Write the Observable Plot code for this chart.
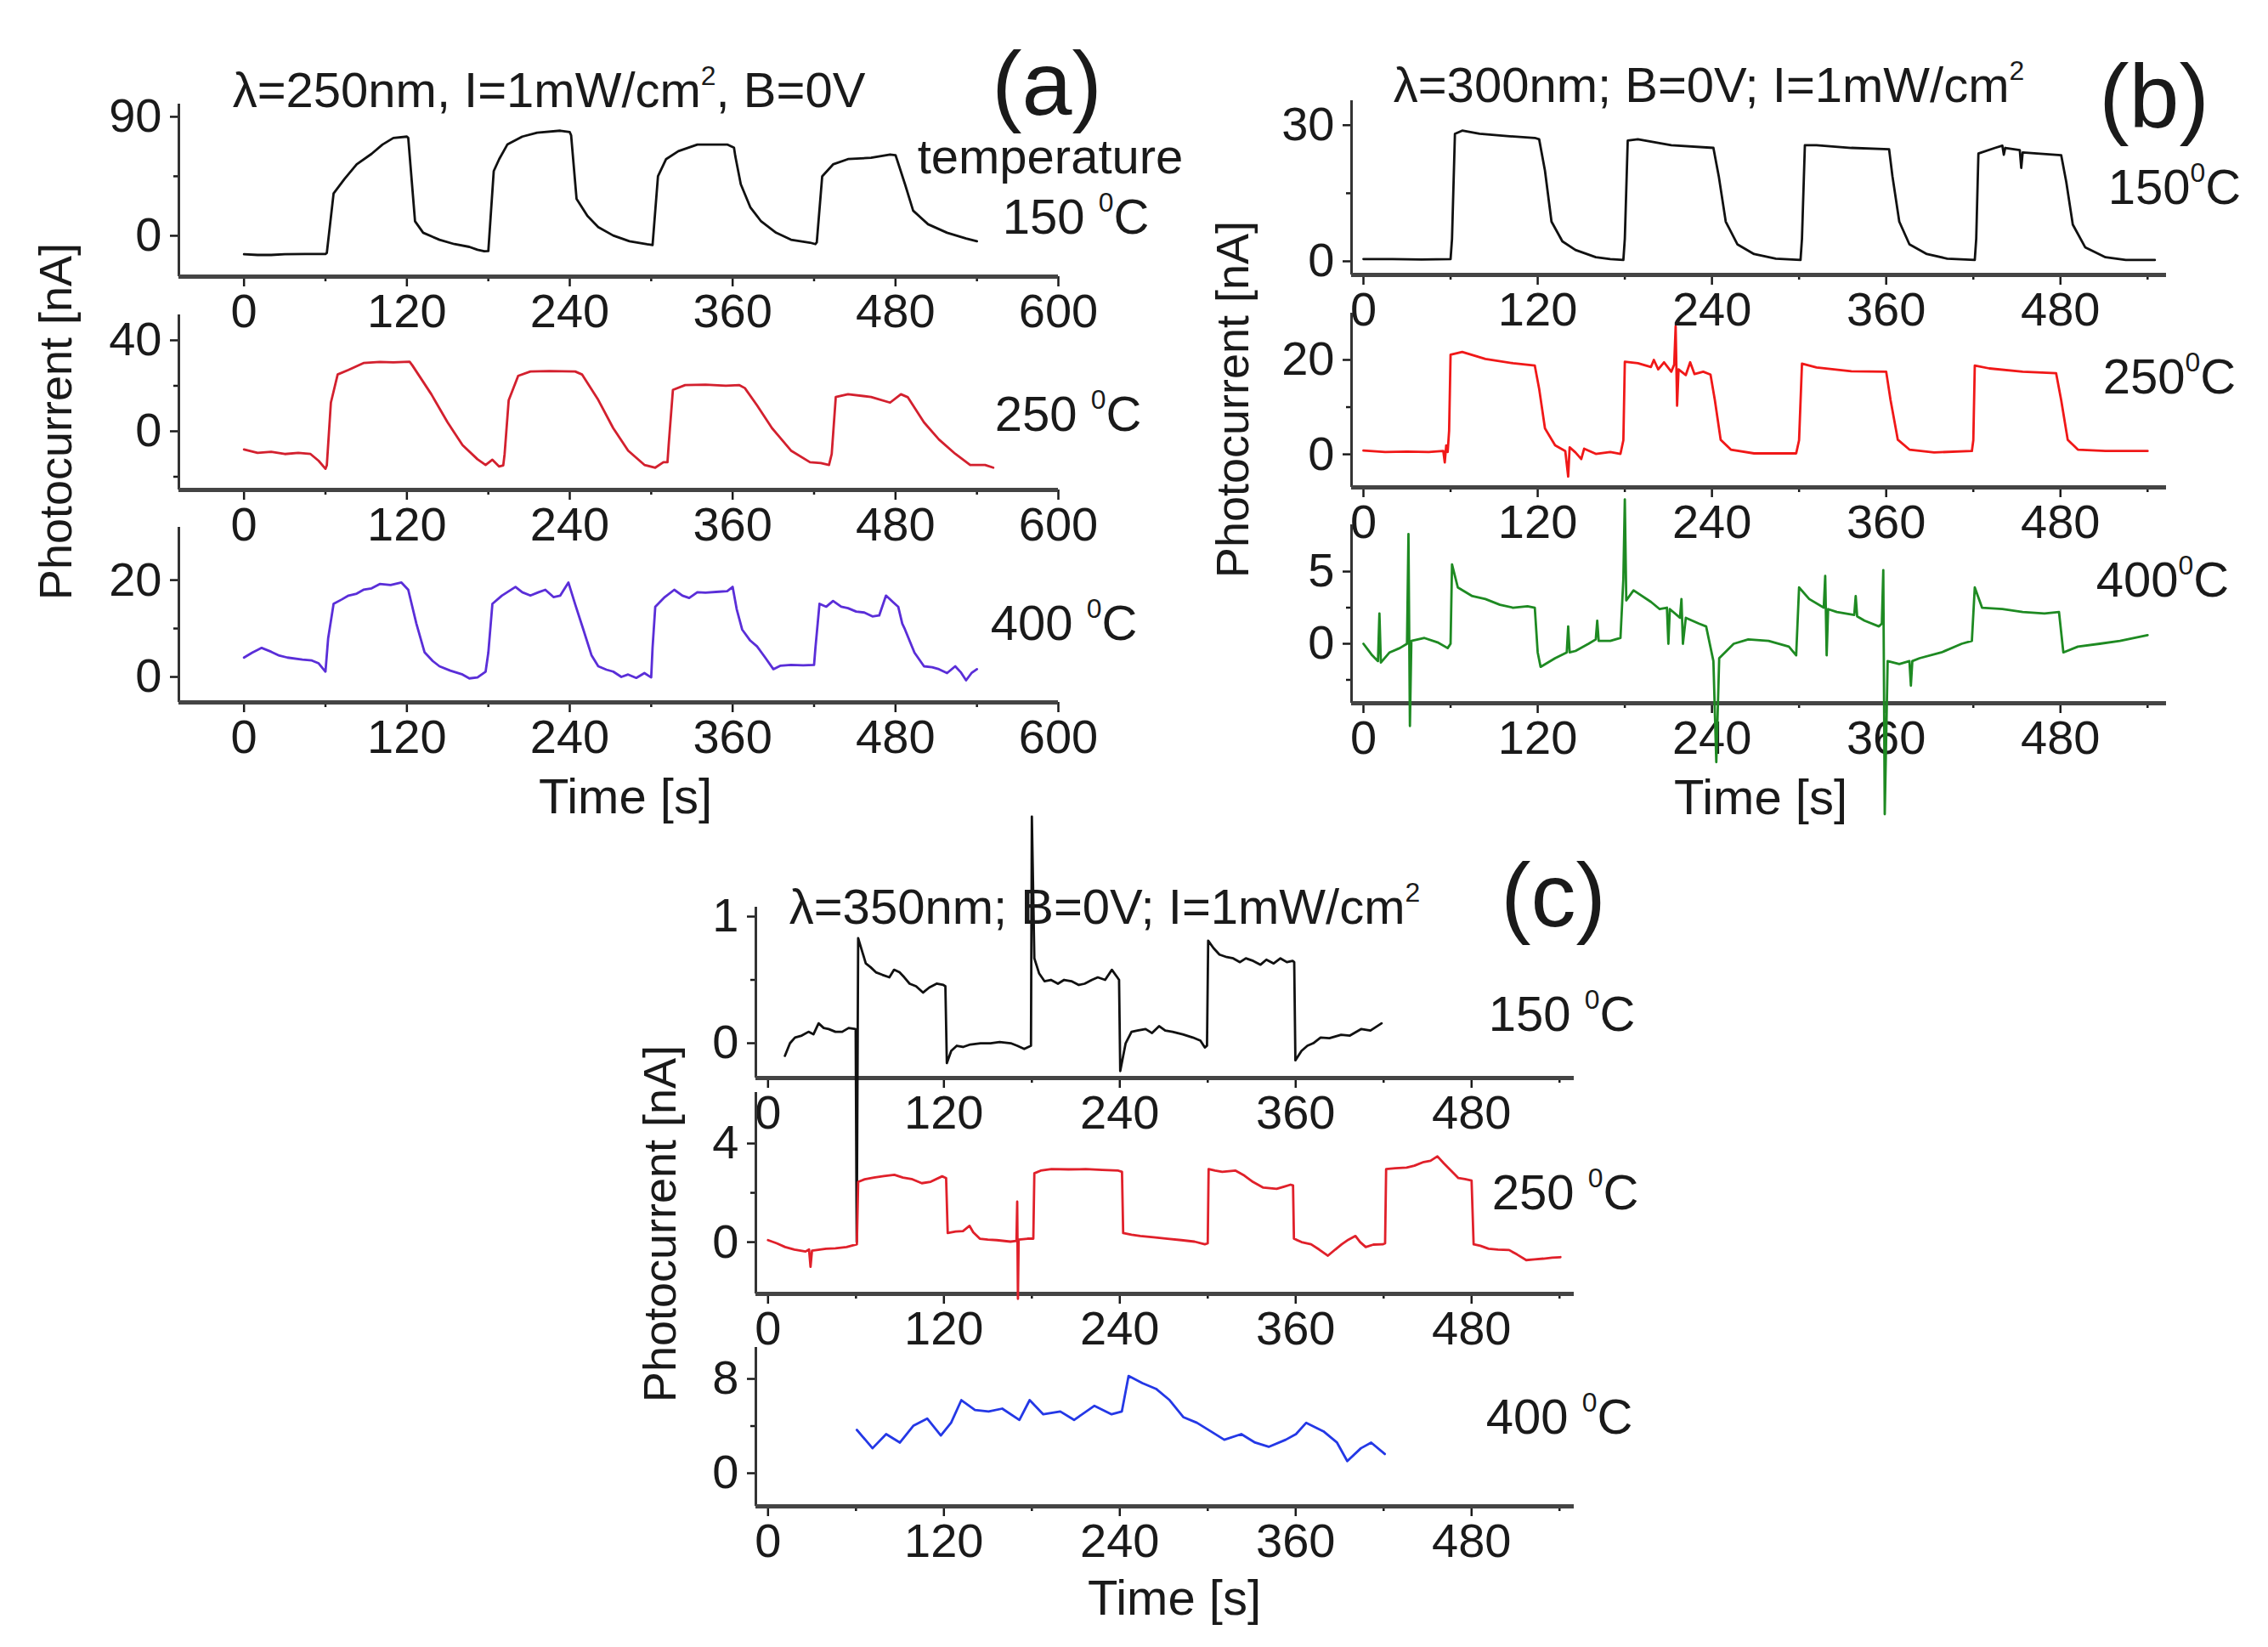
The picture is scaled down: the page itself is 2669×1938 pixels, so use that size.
<!DOCTYPE html>
<html><head><meta charset="utf-8">
<script src="https://cdn.jsdelivr.net/npm/d3@7"></script>
<script src="https://cdn.jsdelivr.net/npm/@observablehq/plot@0.6"></script>
<style>
body{margin:0;background:#fff;}
#root{position:relative;width:2669px;height:1938px;overflow:hidden;font-family:"Liberation Sans",Arial,sans-serif;color:#1a1a1a;}
.t{position:absolute;white-space:nowrap;transform:translate(-50%,-50%);line-height:1;}
.r{transform:translate(-50%,-50%) rotate(-90deg);}
sup{font-size:0.55em;vertical-align:0.8em;line-height:0;}
svg{overflow:visible;}
</style></head><body><div id="root"></div>
<script>
// ---------- data: [time s, photocurrent nA] ----------
const a150 = [[0,-14],[10,-14.5],[20,-14.5],[30,-14],[45,-13.8],[60,-13.8],[61,-13],[66,32],[74,43],[83,54],[94,62],[102,69],[110,74],[120,75],[121,74],[126,11],[132,2.3],[144,-3],[155,-6.3],[166,-8.4],[172,-10.6],[177,-11.7],[180,-11.5],[184,49],[188,58],[194,69],[205,75],[216,78],[233,79.5],[240,78.4],[241,76],[245,28],[253,15],[261,6.6],[272,0.2],[284,-4.1],[297,-6.4],[301,-7],[305,45],[311,58],[320,64],[334,69],[356,69],[361,66.6],[362,60],[366,39],[373,21.6],[381,10.9],[392,2.3],[403,-3],[417,-5.2],[421,-6.3],[422,-5],[426,45],[434,54],[445,58],[462,59],[476,61.5],[480,61],[481,58],[487,39],[493,19],[504,8.7],[518,2.3],[532,-2],[540,-4.1]];
const a250 = [[0,-8],[10,-9.5],[20,-9],[30,-10],[40,-9.5],[49,-10],[55,-13],[60,-16.5],[61,-15],[64,12.6],[69,25],[77,27],[88,30],[100,30.5],[110,30.3],[122,30.6],[124,29],[138,16.3],[150,3.9],[161,-6.1],[172,-12.3],[178,-14.8],[183,-12.5],[188,-15.5],[191,-15],[192,-10],[195,13.6],[202,24.4],[211,26.3],[225,26.5],[244,26.3],[249,25],[261,13.8],[272,1.4],[283,-8.5],[295,-14.8],[303,-16],[309,-13.6],[312,-13.6],[313,-5],[316,18.2],[325,20.3],[340,20.5],[355,20],[365,20.3],[369,19],[378,11.4],[389,1.4],[403,-8.5],[417,-13.6],[425,-14],[431,-14.8],[433,-10],[436,15.1],[445,16.3],[462,15.1],[476,12.6],[484,16.3],[489,15],[501,3.9],[512,-3.6],[524,-9.9],[535,-14.8],[546,-14.8],[552,-16]];
const a400 = [[0,4],[6,5],[13,6],[20,5.2],[26,4.4],[32,4],[43,3.6],[50,3.4],[55,2.8],[60,1.1],[62,8],[66,15.1],[72,16],[77,16.8],[83,17.2],[88,18],[94,18.3],[100,19.2],[108,19],[116,19.5],[121,18],[127,11],[133,5.1],[139,3.3],[144,2.2],[152,1.3],[161,0.5],[166,-0.3],[172,-0.1],[178,1.1],[180,5],[183,15.1],[190,16.8],[200,18.6],[205,17.5],[211,16.8],[217,17.5],[222,18],[228,16.5],[233,16.8],[239,19.5],[244,15],[250,9.8],[256,4.5],[261,2.2],[267,1.5],[272,1.1],[278,0],[283,0.5],[289,-0.2],[295,0.8],[300,-0.1],[301,6],[303,14.5],[310,16.5],[317,18],[323,16.8],[328,16.3],[334,17.5],[340,17.4],[350,17.6],[356,17.7],[360,18.6],[363,14],[367,9.8],[373,7.5],[378,6.3],[384,4],[390,1.6],[395,2.3],[403,2.5],[412,2.4],[420,2.5],[421,6],[424,15.1],[429,14.5],[434,15.7],[440,14.5],[445,14.2],[451,13.5],[457,13.3],[463,12.5],[468,12.7],[473,16.8],[478,15.5],[482,14.5],[485,11],[487,9.8],[494,5],[501,2.2],[507,2],[512,1.6],[518,0.8],[524,2.2],[528,1],[532,-0.7],[536,0.8],[540,1.6]];

const b150 = [[0,0.5],[20,0.5],[40,0.4],[60,0.5],[61,5],[63,28.1],[68,28.8],[80,28.1],[99,27.6],[118,27.2],[121,26.9],[125,20],[129.5,8.75],[137,4.4],[146,2.5],[160,0.9],[170,0.5],[179,0.3],[180,5],[182,26.6],[189,26.9],[212,25.6],[241,25],[244.7,18.75],[249.5,8.75],[257.5,3.75],[269,1.6],[284,0.6],[301,0.3],[302,5],[304,25.6],[312,25.6],[336,25],[362,24.7],[364.3,18.75],[369,8.75],[376,3.75],[388,1.6],[402,0.6],[421,0.3],[422,5],[423.5,23.75],[435,25],[440,25.5],[441,23.5],[442,25],[452,24.5],[453,20.6],[454,24],[464,23.75],[480.5,23.4],[484,17.5],[488.5,8.1],[497,3.1],[511,0.9],[525,0.3],[545,0.3]];
const b250 = [[0,0.8],[15,0.5],[30,0.6],[45,0.5],[55,0.7],[56,-1.7],[57,1.9],[58,0.5],[59,5],[60,21.1],[68,21.7],[84,20.2],[103,19.3],[118,18.8],[121,13.9],[125,5.5],[132,1.9],[139,0.7],[140,-2],[141,-4.7],[142,1.5],[146,0.4],[150,-1],[152,1.2],[160,0.1],[170,0.5],[177,0.1],[179,3],[180,19.6],[189,19.3],[198,18.5],[200,20],[203,18],[207,19.5],[212,17.5],[214,19],[215,27.1],[216,10.3],[217,18],[222,16.8],[225,19.5],[228,17],[234,17.5],[239,16.9],[242,11.5],[246,3.1],[253,1.0],[269,0.2],[298,0.2],[300,3],[302,19.2],[312,18.4],[336,17.6],[360,17.5],[363,11.5],[368,3.1],[376,1],[393,0.4],[419,0.7],[420,3],[421,18.8],[431,18.2],[454,17.5],[477,17.2],[480.5,11.5],[485,3.1],[492,1],[511,0.7],[540,0.7]];
const b400 = [[0,0],[6,-0.8],[10,-1.2],[11,2.1],[12,-1.3],[18,-0.6],[25,-0.3],[30,0],[31,7.6],[32,-5.7],[33,0.2],[42,0.4],[51,0.1],[58,-0.3],[60,0],[61,5.5],[65,3.9],[75,3.3],[84,3.1],[94,2.7],[103,2.5],[113,2.6],[118,2.5],[120,-0.6],[122,-1.6],[132,-1],[140,-0.6],[141,1.2],[142,-0.6],[146,-0.5],[155,0],[160,0.3],[161,1.6],[162,0.2],[170,0.2],[177,0.4],[179,4.5],[180,10],[181,3],[186,3.7],[198,2.9],[204,2.4],[209,2.5],[210,0],[211,2.4],[218,1.8],[219,3.1],[220,0],[222,1.8],[231,1.4],[236,1.2],[241,-1.2],[243,-8.2],[245,-1],[255,0],[265,0.3],[279,0.2],[293,-0.2],[298,-0.8],[300,3.9],[307,3.1],[317,2.5],[318,4.7],[319,-0.8],[320,2.4],[326,2.2],[338,2],[339,3.3],[340,1.9],[345,1.6],[355,1.2],[357,1.4],[358,5.1],[359,-11.8],[361,-1.2],[369,-1.4],[376,-1.2],[377,-2.9],[378,-1.2],[383,-1],[398,-0.6],[412,0],[419,0.2],[421,3.9],[426,2.5],[440,2.4],[454,2.2],[469,2.1],[479,2.2],[482,-0.6],[492,-0.2],[507,0],[521,0.2],[540,0.6]];

const c150 = [[11.5,-0.1],[15,0.0],[18.4,0.045],[23,0.06],[27.6,0.09],[31,0.07],[34.5,0.157],[38,0.12],[41.4,0.112],[46,0.09],[50.6,0.09],[55,0.12],[59.8,0.112],[60.5,-1.57],[61.5,0.83],[66.7,0.63],[70,0.6],[73.6,0.56],[78,0.54],[82.8,0.52],[86,0.58],[89.7,0.56],[93,0.52],[96.6,0.47],[101,0.45],[105.8,0.40],[110,0.44],[115,0.47],[119.6,0.46],[121,0.45],[122,-0.157],[125,-0.06],[128.8,-0.02],[133,-0.03],[138,-0.01],[145,0.0],[151.8,0.0],[158,0.01],[165.6,0.0],[170,-0.02],[174.8,-0.045],[179.4,-0.02],[180,1.79],[181.7,0.67],[185,0.55],[188.6,0.49],[193,0.5],[197.8,0.47],[202,0.5],[207,0.49],[212,0.46],[216,0.47],[221,0.5],[225,0.52],[230,0.5],[234.6,0.58],[238.3,0.52],[239.5,0.5],[240.3,-0.22],[244,0.0],[248,0.09],[252,0.1],[257.6,0.112],[262,0.08],[266.8,0.135],[271,0.1],[276,0.09],[283,0.07],[289.8,0.045],[295,0.02],[298,-0.034],[299.5,-0.02],[300.3,0.81],[304,0.75],[308,0.70],[313,0.68],[317.4,0.67],[322,0.64],[326,0.67],[331,0.65],[336,0.62],[340,0.66],[345,0.63],[349.6,0.67],[354,0.64],[357.9,0.65],[359,0.64],[359.8,-0.135],[364,-0.06],[368,-0.02],[372,0.0],[377,0.045],[383,0.04],[391,0.067],[397,0.06],[404.8,0.112],[411,0.1],[418.6,0.157]];
const c250 = [[0,0.08],[6,-0.05],[11.7,-0.2],[18,-0.3],[25.6,-0.38],[28,-0.3],[29,-1.0],[30,-0.35],[39.6,-0.27],[46,-0.25],[53.6,-0.2],[60.6,-0.09],[61.5,2.44],[66,2.55],[72.2,2.62],[79,2.68],[86.2,2.73],[92,2.62],[97.9,2.56],[104.9,2.39],[111,2.45],[118.8,2.67],[121.5,2.6],[122.6,0.37],[128,0.43],[133,0.45],[137.5,0.66],[140,0.4],[144.5,0.14],[150,0.1],[156,0.08],[165.4,0.02],[169.5,0.05],[170,1.64],[170.5,-2.3],[171,0.1],[177,0.14],[181,0.14],[181.7,2.79],[186,2.9],[193.4,2.96],[205,2.95],[216.7,2.96],[228,2.93],[239,2.9],[241.5,2.85],[242.3,0.37],[248,0.3],[254,0.25],[263,0.2],[272.6,0.14],[282,0.08],[291,0.02],[298,-0.09],[300,-0.05],[300.6,2.96],[305,2.9],[309.9,2.85],[319,2.9],[325,2.7],[330.9,2.44],[337.9,2.21],[347,2.16],[352,2.25],[356.5,2.33],[358.2,2.3],[358.8,0.14],[364,0.0],[370.5,-0.09],[376,-0.3],[382,-0.55],[387,-0.3],[391.4,-0.09],[396,0.1],[400.8,0.25],[404,0.0],[407.8,-0.2],[413,-0.1],[419.4,-0.09],[421,-0.05],[421.7,2.96],[428,3.0],[435.7,3.02],[441,3.1],[447.4,3.25],[452,3.3],[456.7,3.48],[461,3.2],[466,2.9],[471,2.6],[475.4,2.56],[480,2.5],[481.4,-0.09],[486,-0.15],[491.6,-0.27],[498,-0.3],[505.6,-0.32],[511,-0.5],[517.3,-0.73],[523,-0.7],[529,-0.67],[535,-0.63],[540.6,-0.61]];
const c400 = [[60.6,3.68],[71.3,2.12],[80.6,3.32],[90,2.6],[99.3,4.04],[108.6,4.64],[117.9,3.2],[124.9,4.28],[131.9,6.2],[141.2,5.36],[150.5,5.24],[159.8,5.48],[171.5,4.52],[178.5,6.2],[187.8,5.0],[199.4,5.24],[208.8,4.52],[222.7,5.72],[234.4,5.0],[241.4,5.24],[246,8.25],[255.4,7.64],[264.7,7.16],[274,6.2],[283.3,4.76],[292.6,4.28],[302,3.56],[311.3,2.84],[322.9,3.32],[332.3,2.6],[341.6,2.24],[353.2,2.84],[360.2,3.32],[367.2,4.28],[378.9,3.56],[388.2,2.6],[395.2,1.03],[404.5,2.12],[411.5,2.6],[420.8,1.63]];

// ---------- ticks ----------
const xMajorA = [0,120,240,360,480,600];
const xMajorBC = [0,120,240,360,480];
const xMinor = [60,180,300,420,540];

// ---------- texts ----------
const titles = ["λ=250nm, I=1mW/cm<sup>2</sup>, B=0V","λ=300nm; B=0V; I=1mW/cm<sup>2</sup>","λ=350nm; B=0V; I=1mW/cm<sup>2</sup>"];
const letters = ["(a)","(b)","(c)"];
const tempA = ["150 <sup>0</sup>C","250 <sup>0</sup>C","400 <sup>0</sup>C"];
const tempB = ["150<sup>0</sup>C","250<sup>0</sup>C","400<sup>0</sup>C"];
const yLabel = "Photocurrent [nA]";
const xLabel = "Time [s]";

// ---------- layout ----------
const FONT = '"Liberation Sans", Arial, sans-serif';
const root = document.getElementById("root");
const panels = [
  {data:a150, color:"#111111", xd:[-48,600], yd:[-30.9,99.6], box:[210,1245,122,325], yt:[0,90], ym:[45], xt:xMajorA},
  {data:a250, color:"#d3202e", xd:[-48,600], yd:[-25.8,51.2], box:[210,1245,370,576], yt:[0,40], ym:[-20,20], xt:xMajorA},
  {data:a400, color:"#5a2ed8", xd:[-48,600], yd:[-5.26,30.9], box:[210,1245,620,826], yt:[0,20], ym:[10], xt:xMajorA},
  {data:b150, color:"#111111", xd:[-8.2,553], yd:[-3.0,35.4], box:[1590,2549,118,323], yt:[0,30], ym:[15], xt:xMajorBC},
  {data:b250, color:"#f01818", xd:[-8.2,553], yd:[-7.0,29.9], box:[1590,2549,368,573], yt:[0,20], ym:[10], xt:xMajorBC},
  {data:b400, color:"#1e8a22", xd:[-8.2,553], yd:[-4.12,8.24], box:[1590,2549,617,827], yt:[0,5], ym:[-2.5,2.5], xt:xMajorBC},
  {data:c150, color:"#111111", xd:[-8.3,550], yd:[-0.275,1.074], box:[889,1852,1067,1268], yt:[0,1], ym:[0.5], xt:xMajorBC},
  {data:c250, color:"#e0202a", xd:[-8.3,550], yd:[-2.1,6.07], box:[889,1852,1285,1522], yt:[0,4], ym:[2], xt:xMajorBC},
  {data:c400, color:"#2438e6", xd:[-8.3,550], yd:[-2.81,10.67], box:[889,1852,1585,1772], yt:[0,8], ym:[4], xt:xMajorBC}
];

function panel(p){
  const [L,R,T,B] = p.box;
  const mL=150,mR=20,mT=20,mB=90;
  const svg = Plot.plot({
    width:R-L+mL+mR, height:B-T+mT+mB,
    marginLeft:mL, marginRight:mR, marginTop:mT, marginBottom:mB,
    x:{domain:p.xd}, y:{domain:p.yd},
    style:{background:"transparent", overflow:"visible", fontFamily:FONT, color:"#1a1a1a", maxWidth:"none"},
    marks:[
      Plot.axisX(p.xt,{anchor:"bottom", tickSize:12, tickPadding:8, fontSize:56, strokeWidth:2.5, label:null, tickFormat:d=>String(d)}),
      Plot.axisX(xMinor,{anchor:"bottom", tickSize:6, tickFormat:()=>"", strokeWidth:2.5, label:null}),
      Plot.axisY(p.yt,{anchor:"left", tickSize:10, tickPadding:10, fontSize:56, strokeWidth:2.5, label:null, tickFormat:d=>String(d)}),
      Plot.axisY(p.ym,{anchor:"left", tickSize:6, tickFormat:()=>"", strokeWidth:2.5, label:null}),
      Plot.ruleX([p.xd[0]],{stroke:"#333", strokeWidth:3}),
      Plot.ruleY([p.yd[0]],{stroke:"#444", strokeWidth:5}),
      Plot.line(p.data,{x:d=>d[0], y:d=>d[1], stroke:p.color, strokeWidth:2.8})
    ]
  });
  svg.style.position="absolute";
  svg.style.left=(L-mL)+"px";
  svg.style.top=(T-mT)+"px";
  root.appendChild(svg);
}
panels.forEach(panel);

function text(html,x,y,size,cls){
  const d=document.createElement("div");
  d.className="t"+(cls?" "+cls:"");
  d.innerHTML=html;
  d.style.left=x+"px"; d.style.top=y+"px"; d.style.fontSize=size+"px";
  root.appendChild(d);
}
// panel (a)
text(titles[0],646,106,58);
text(letters[0],1232,98,106);
text("temperature",1236,184,58);
text(tempA[0],1266,255,58);
text(tempA[1],1257,487,58);
text(tempA[2],1252,733,58);
text(xLabel,736,937,58);
text(yLabel,65,496,54,"r");
// panel (b)
text(titles[1],2011,100,58);
text(letters[1],2535,113,106);
text(tempB[0],2559,220,58);
text(tempB[1],2553,443,58);
text(tempB[2],2545,682,58);
text(xLabel,2072,938,58);
text(yLabel,1450,470,54,"r");
// panel (c)
text(titles[2],1300,1067,58);
text(letters[2],1828,1053,106);
text(tempA[0],1838,1193,58);
text(tempA[1],1842,1403,58);
text(tempA[2],1835,1667,58);
text(xLabel,1382,1880,58);
text(yLabel,776,1440,54,"r");
</script></body></html>
